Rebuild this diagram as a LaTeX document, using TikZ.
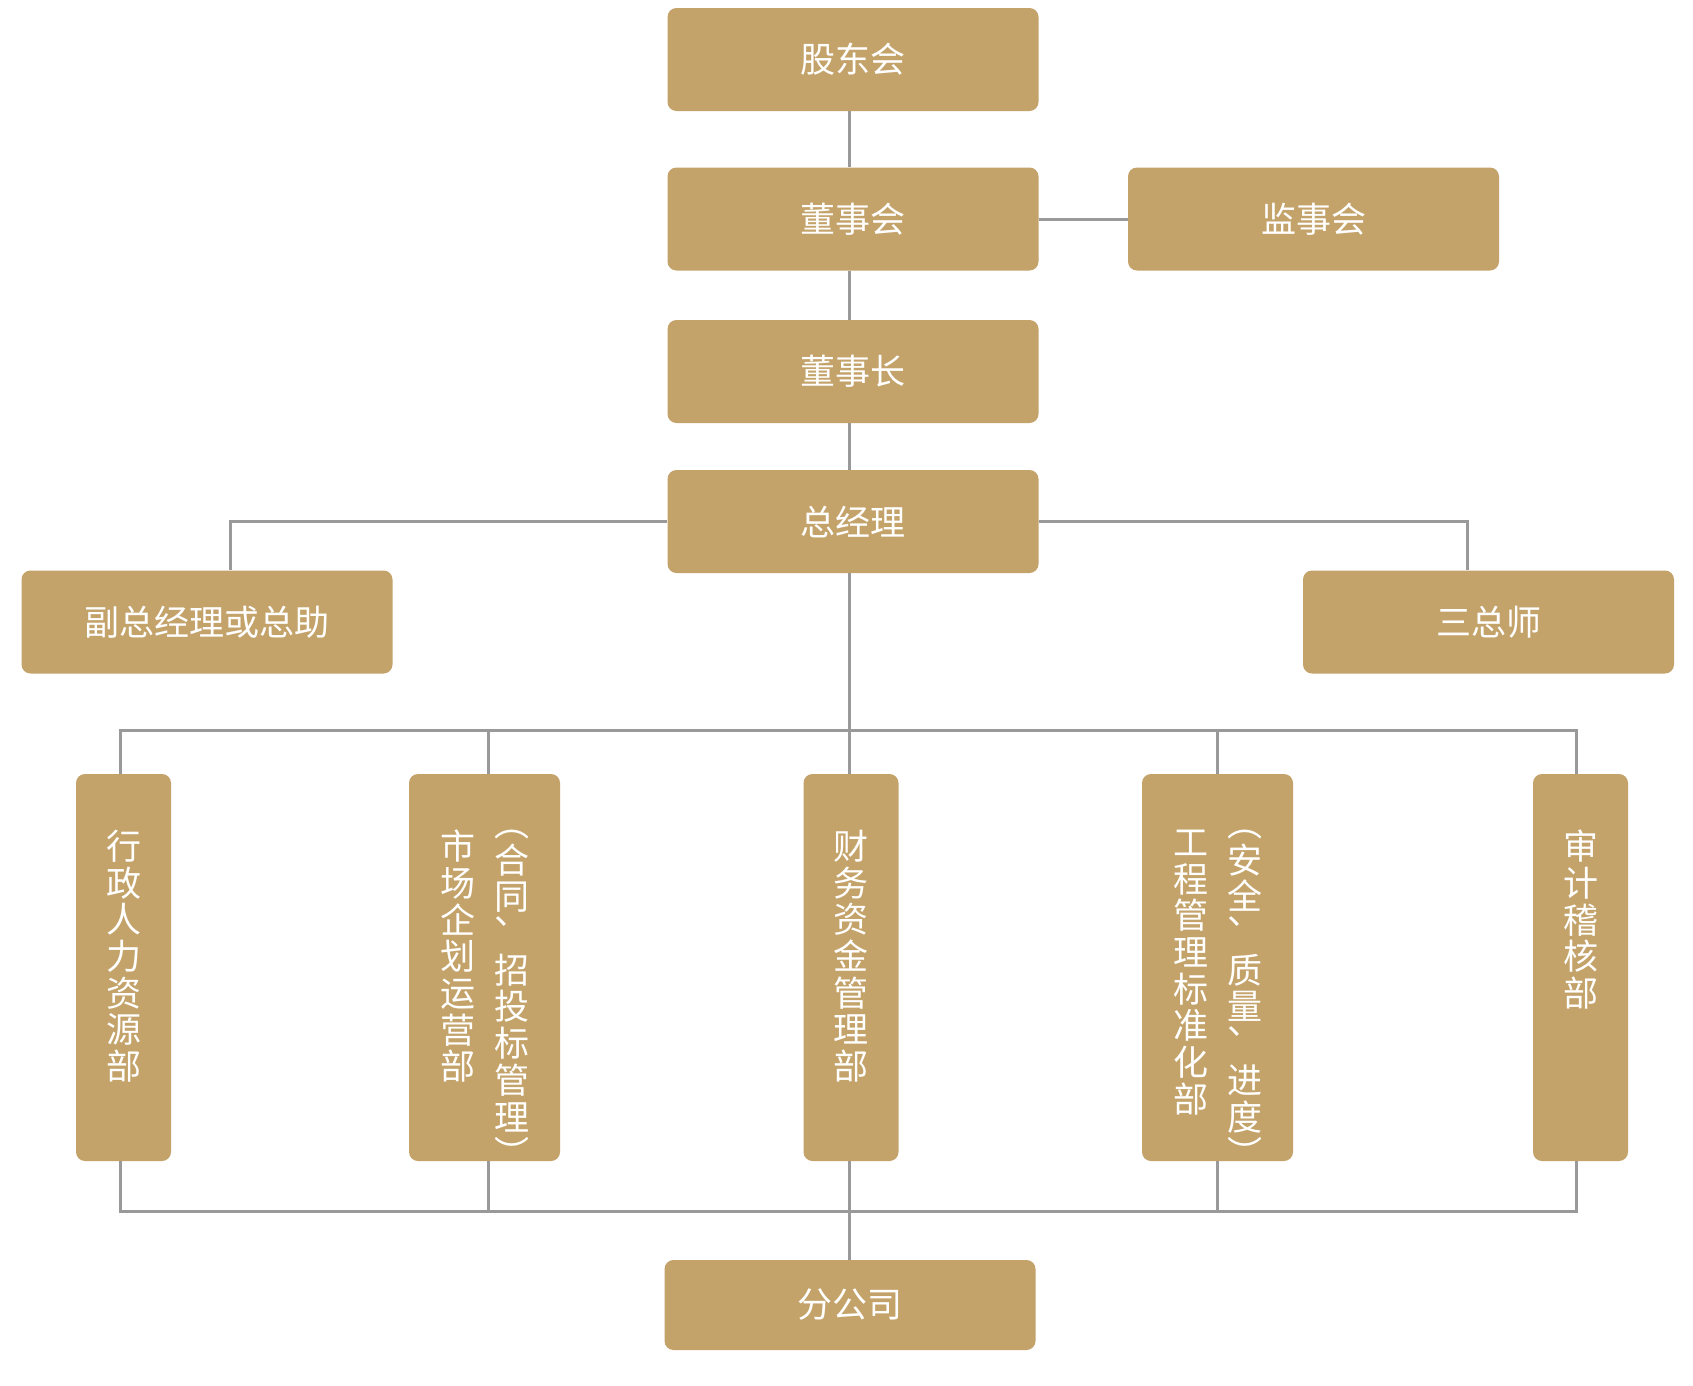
\documentclass[tikz,border=0pt]{standalone}
\usepackage{fontspec}
\setmainfont{Noto Sans CJK SC}
\usetikzlibrary{positioning}
\definecolor{boxgold}{HTML}{C4A36B}
\definecolor{linegray}{HTML}{999999}
\newcommand{\dun}{\raisebox{0.62em}{、}}

\begin{document}
\begin{tikzpicture}[x=1pt,y=-1pt,
    box/.style={fill=boxgold, rounded corners=9pt, text=white, inner sep=0pt,
      font=\fontsize{35}{37}\selectfont, minimum width=371pt, minimum height=103pt},
    dept/.style={box, minimum width=95pt, minimum height=387pt},
    widedept/.style={dept, minimum width=151pt},
    vtxt/.style={align=center, text=white, inner sep=0pt, font=\fontsize{35}{36.7}\selectfont},
    link/.style={draw=linegray, line width=3pt}]
    \useasboundingbox[fill=white] (0,0) rectangle (1693,1385);

    \node[box] (gdh) at (853,59.5) {股东会};
    \node[box] (dsh) at (853,219) {董事会};
    \node[box] (jsh) at (1313.5,219) {监事会};
    \node[box] (dsz) at (853,371.5) {董事长};
    \node[box] (zjl) at (853,521.5) {总经理};
    \node[box] (fz) at (207,622) {副总经理或总助};
    \node[box] (szs) at (1488.5,622) {三总师};

    \node[dept] (xz) at (123.5,967.5) {};
    \node[widedept] (sc) at (484.5,967.5) {};
    \node[dept] (cw) at (851,967.5) {};
    \node[widedept] (gc) at (1217.5,967.5) {};
    \node[dept] (sj) at (1580.5,967.5) {};
    \node[box, minimum height=90pt] (fgs) at (850,1305) {分公司};

    \node[vtxt, below=56pt of xz.north] (xzt) {行\\政\\人\\力\\资\\源\\部};
    \node[vtxt, below=56pt of sc.north, xshift=-27pt] (sct) {市\\场\\企\\划\\运\\营\\部};
    \node[vtxt, below=56pt of sc.north, xshift=27pt] (scn) {︵\\合\\同\\\dun\\招\\投\\标\\管\\理\\︶};
    \node[vtxt, below=56pt of cw.north] (cwt) {财\\务\\资\\金\\管\\理\\部};
    \node[vtxt, below=56pt of gc.north, xshift=-27pt] (gct) {工\\程\\管\\理\\标\\准\\化\\部};
    \node[vtxt, below=56pt of gc.north, xshift=27pt] (gcn) {︵\\安\\全\\\dun\\质\\量\\\dun\\进\\度\\︶};
    \node[vtxt, below=56pt of sj.north] (sjt) {审\\计\\稽\\核\\部};

    \coordinate (bus) at (849,730);
    \coordinate (bbus) at (849,1211);

    \draw[link] (gdh.south -| bus) -- (dsh.north -| bus);
    \draw[link] (dsh) -- (jsh);
    \draw[link] (dsh.south -| bus) -- (dsz.north -| bus);
    \draw[link] (dsz.south -| bus) -- (zjl.north -| bus);
    \draw[link] (zjl.west) -| ([xshift=23pt]fz.north);
    \draw[link] (zjl.east) -| ([xshift=-21pt]szs.north);
    \draw[link] (zjl.south -| bus) -- (cw.north -| bus);
    \draw[link] ([xshift=-3pt]xz.north) |- (bus) -| ([xshift=-4pt]sj.north);
    \draw[link] ([xshift=4pt]sc.north) -- ([xshift=4pt]sc.north |- bus);
    \draw[link] (gc.north) -- (gc.north |- bus);
    \draw[link] ([xshift=-3pt]xz.south) |- (bbus) -| ([xshift=-4pt]sj.south);
    \draw[link] ([xshift=4pt]sc.south) -- ([xshift=4pt]sc.south |- bbus);
    \draw[link] (gc.south) -- (gc.south |- bbus);
    \draw[link] (cw.south -| bbus) -- (fgs.north -| bbus);
\end{tikzpicture}
\end{document}
